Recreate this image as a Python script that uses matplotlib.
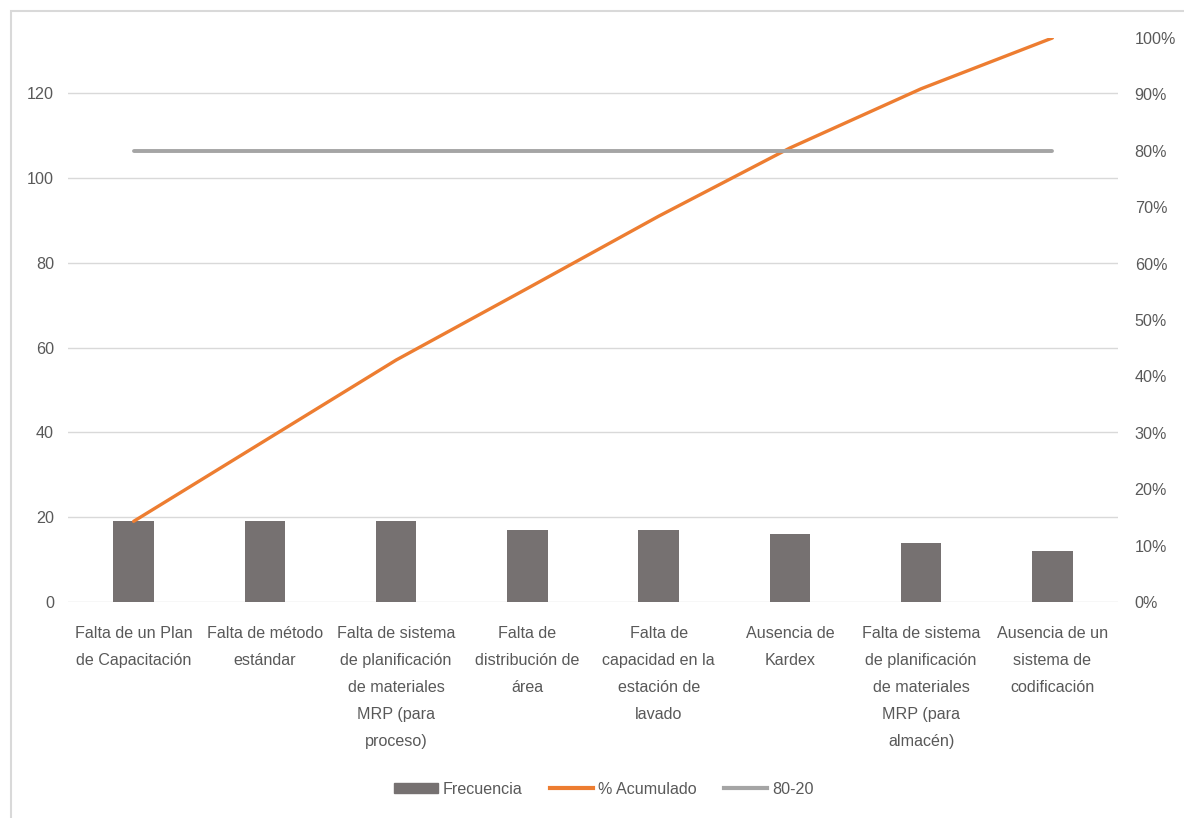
import matplotlib
matplotlib.use("Agg")
import matplotlib.pyplot as plt
from matplotlib.patches import Rectangle
from matplotlib.lines import Line2D
import numpy as np

plt.rcParams['font.family'] = ['Liberation Sans', 'DejaVu Sans']

categories = [
    "Falta de un Plan\nde Capacitación",
    "Falta de método\nestándar",
    "Falta de sistema\nde planificación\nde materiales\nMRP (para\nproceso)",
    "Falta de\ndistribución de\nárea",
    "Falta de\ncapacidad en la\nestación de\nlavado",
    "Ausencia de\nKardex",
    "Falta de sistema\nde planificación\nde materiales\nMRP (para\nalmacén)",
    "Ausencia de un\nsistema de\ncodificación",
]
frecuencia = [19, 19, 19, 17, 17, 16, 14, 12]
acumulado = [0.143, 0.286, 0.429, 0.556, 0.684, 0.805, 0.910, 1.000]
linea_80_20 = [0.8, 0.8, 0.8, 0.8, 0.8, 0.8, 0.8, 0.8]
left_ticks = [0, 20, 40, 60, 80, 100, 120]
right_ticks = [0, 0.1, 0.2, 0.3, 0.4, 0.5, 0.6, 0.7, 0.8, 0.9, 1.0]

text_color = '#595959'
bar_color = '#767171'
orange = '#ED7D31'
gray = '#A5A5A5'
fs = 11.6

W, H = 1184, 818
fig = plt.figure(figsize=(W / 100, H / 100), dpi=100)

# outer chart frame
fig.add_artist(Rectangle((11 / W, -0.05), 1.2, 1 - 11 / H + 0.05, transform=fig.transFigure,
                         fill=False, edgecolor='#D9D9D9', linewidth=1.5))

ax = fig.add_axes([68 / W, 1 - 602 / H, (1118 - 68) / W, (602 - 38) / H])
x = np.arange(len(categories))
ax.bar(x, frecuencia, width=0.31, color=bar_color, zorder=2, label='Frecuencia')
ax.set_xlim(-0.5, len(categories) - 0.5)
ax.set_ylim(0, 133)
ax.set_yticks(left_ticks)
ax.grid(axis='y', color='#D9D9D9', linewidth=1, zorder=0)
ax.set_axisbelow(True)
for s in ax.spines.values():
    s.set_visible(False)
ax.tick_params(axis='both', length=0, colors=text_color, labelsize=fs)
ax.tick_params(axis='y', pad=10)
ax.set_xticks(x)
ax.set_xticklabels(categories, linespacing=2.0, va='top')
ax.tick_params(axis='x', pad=17)

ax2 = ax.twinx()
ax2.plot(x, acumulado, color=orange, linewidth=2.4, solid_capstyle='round', zorder=3, label='% Acumulado')
ax2.plot(x, linea_80_20, color=gray, linewidth=2.8, solid_capstyle='round', zorder=3, label='80-20')
ax2.set_ylim(0, 1.0)
ax2.set_yticks(right_ticks)
ax2.set_yticklabels([f"{int(round(t * 100))}%" for t in right_ticks])
for s in ax2.spines.values():
    s.set_visible(False)
ax2.tick_params(axis='y', length=0, colors=text_color, labelsize=fs, pad=12)

handles = [
    Rectangle((0, 0), 1, 1, color=bar_color),
    Line2D([0], [0], color=orange, linewidth=3),
    Line2D([0], [0], color=gray, linewidth=3),
]
fig.legend(handles, ['Frecuencia', '% Acumulado', '80-20'], loc='center',
           bbox_to_anchor=(604 / W, 1 - 789 / H), ncol=3, frameon=False,
           fontsize=fs, labelcolor=text_color, handlelength=2.7, handletextpad=0.3,
           columnspacing=1.7, handleheight=0.6)

fig.savefig('out.png', dpi=100, facecolor='white')
